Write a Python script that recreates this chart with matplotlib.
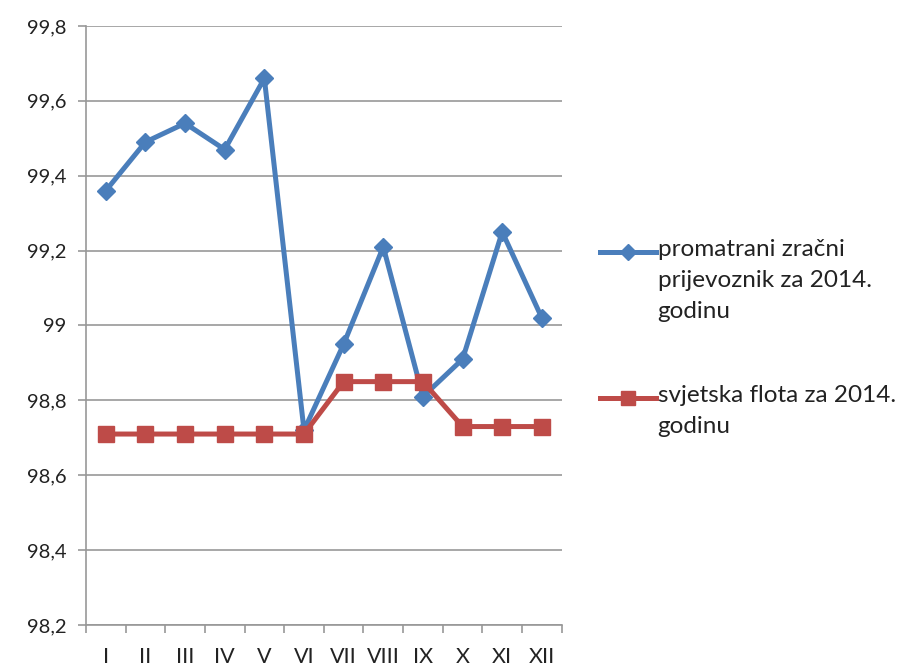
import matplotlib
matplotlib.use("Agg")
from matplotlib import pyplot as plt
from matplotlib.lines import Line2D

# mjeseci i vrijednosti
months = ["I", "II", "III", "IV", "V", "VI", "VII", "VIII", "IX", "X", "XI", "XII"]
carrier_2014 = [99.36, 99.49, 99.54, 99.47, 99.66, 98.72, 98.95, 99.21, 98.81, 98.91, 99.25, 99.02]
fleet_2014 = [98.71, 98.71, 98.71, 98.71, 98.71, 98.71, 98.85, 98.85, 98.85, 98.73, 98.73, 98.73]
y_ticks = [98.2, 98.4, 98.6, 98.8, 99.0, 99.2, 99.4, 99.6, 99.8]
y_labels = ["98,2", "98,4", "98,6", "98,8", "99", "99,2", "99,4", "99,6", "99,8"]
series_names = ["promatrani zračni\nprijevoznik za 2014.\ngodinu", "svjetska flota za 2014.\ngodinu"]

plt.rcParams['font.family'] = ['Lato', 'DejaVu Sans']
grid_col = '#989898'
txt_col = '#222222'
blue = '#4A7EBB'
red = '#BE4B48'

fig = plt.figure(figsize=(9.01, 6.71), dpi=100)
ax = fig.add_axes([0.0954, 0.0686, 0.528, 0.8927])

x = list(range(len(months)))
styles = [dict(color=blue, marker='D', markersize=9.5), dict(color=red, marker='s', markersize=12)]
for vals, st in zip([carrier_2014, fleet_2014], styles):
    ax.plot(x, vals, lw=3.6, markeredgecolor=st['color'], zorder=3, **st)

ax.set_xlim(-0.5, len(months) - 0.5)
ax.set_ylim(98.2, 99.8)
ax.set_yticks(y_ticks)
ax.set_yticklabels(y_labels, fontsize=14.5, color=txt_col)
ax.set_xticks(x)
ax.set_xticklabels(months, fontsize=15.5, color=txt_col)
ax.set_xticks([i - 0.5 for i in range(len(months) + 1)], minor=True)
ax.tick_params(axis='x', which='major', length=0, pad=16)
ax.tick_params(axis='x', which='minor', length=6, color=grid_col, width=1.2, direction='out')
ax.tick_params(axis='y', length=6, color=grid_col, width=1.2, pad=8)

ax.yaxis.grid(True, color=grid_col, lw=1.2)
ax.set_axisbelow(True)
for s in ['top', 'right']:
    ax.spines[s].set_visible(False)
for s in ['left', 'bottom']:
    ax.spines[s].set_color(grid_col)
    ax.spines[s].set_linewidth(1.2)

# legenda: simbol poravnat s prvim redom teksta
legend_y = [1 - 252 / 671, 1 - 398 / 671]
for name, st, ly in zip(series_names, styles, legend_y):
    fig.add_artist(Line2D([0.666, 0.728], [ly, ly], transform=fig.transFigure, lw=3.6,
                          color=st['color']))
    fig.add_artist(Line2D([0.697], [ly], transform=fig.transFigure, color=st['color'],
                          marker=st['marker'], markersize=st['markersize'] * 0.85,
                          markeredgecolor=st['color']))
    fig.text(0.730, ly + 0.020, name, fontsize=17.5, color=txt_col, va='top', ha='left',
             linespacing=1.6)

fig.savefig('out.png', dpi=100)
